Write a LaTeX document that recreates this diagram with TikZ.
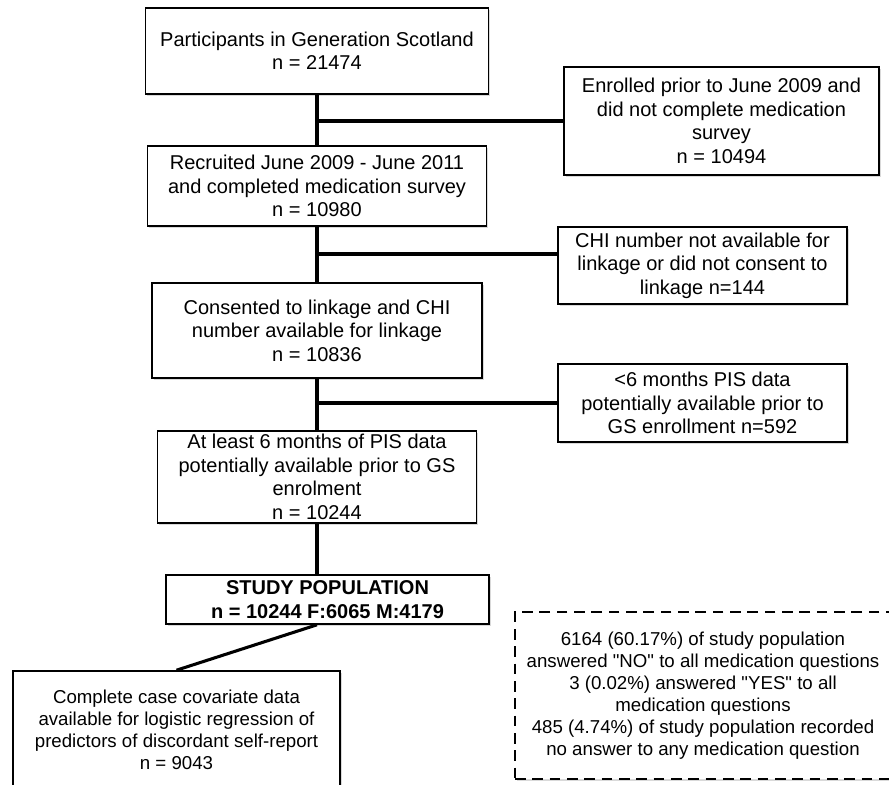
\documentclass[tikz,border=0pt]{standalone}
\usepackage{fontspec}
\setmainfont{Liberation Sans}
\usepackage{tikz}
\usetikzlibrary{shadows}
\def\boxfont{\fontsize{15}{17.6}\selectfont}
\def\smallboxfont{\fontsize{14}{16.4}\selectfont}
\def\q{\textquotedbl}

\begin{document}
\begin{tikzpicture}[x=0.75pt,y=-0.75pt,
  box/.style={draw,line width=1.2pt,fill=white,align=center,inner sep=0pt,font=\boxfont,
    drop shadow={opacity=0.3,shadow xshift=1.2pt,shadow yshift=-1.2pt}},
  link/.style={line width=2.3pt}]%<<<
\useasboundingbox (0,0) rectangle (889,785);
\node[box,minimum width=257.25pt,minimum height=64.5pt] (gs) at (317,51)
  {Participants in Generation Scotland\\n = 21474};
\node[box,minimum width=236.25pt,minimum height=81pt] (enrolled) at (721.5,121)
  {Enrolled prior to June 2009 and\\did not complete medication\\survey\\n = 10494};
\node[box,minimum width=254.25pt,minimum height=60pt] (recruited) at (317,186)
  {Recruited June 2009 - June 2011\\and completed medication survey\\n = 10980};
\node[box,minimum width=216.75pt,minimum height=57.75pt] (chi) at (702.5,265.5)
  {CHI number not available for\\linkage or did not consent to\\linkage n=144};
\node[box,minimum width=247.5pt,minimum height=71.25pt] (consented) at (317,330.5)
  {Consented to linkage and CHI\\number available for linkage\\n = 10836};
\node[box,minimum width=216.75pt,minimum height=58.5pt] (pis) at (702.5,403)
  {<6 months PIS data\\potentially available prior to\\GS enrollment n=592};
\node[box,minimum width=239.25pt,minimum height=69pt] (atleast) at (317,477)
  {At least 6 months of PIS data\\potentially available prior to GS\\enrolment\\n = 10244};
\node[box,minimum width=242.25pt,minimum height=36.75pt,font=\boxfont\bfseries] (study) at (327.5,599.5)
  {STUDY POPULATION\\n = 10244 F:6065 M:4179};
\node[box,minimum width=245.25pt,minimum height=88.5pt,font=\smallboxfont] (complete) at (176.5,730)
  {Complete case covariate data\\available for logistic regression of\\predictors of discordant self-report\\n = 9043};
\node[box,line width=0.9pt,dash pattern=on 8pt off 5pt,minimum width=282pt,minimum height=125.25pt,
  font=\smallboxfont] (note) at (703,695.5)
  {6164 (60.17\%) of study population\\answered \q NO\q{} to all medication questions\\3 (0.02\%) answered \q YES\q{} to all\\medication questions\\485 (4.74\%) of study population recorded\\no answer to any medication question};

\coordinate (split1) at (317,121);
\coordinate (split2) at (317,254);
\coordinate (split3) at (317,403);
\draw[link] (gs.south) -- (recruited.north);
\draw[link] (recruited.south) -- (consented.north);
\draw[link] (consented.south) -- (atleast.north);
\draw[link] (atleast.south) -- (atleast.south |- study.north);
\draw[link] (split1) -- (enrolled.west);
\draw[link] (split2) -- (split2 -| chi.west);
\draw[link] (split3) -- (pis.west);
\draw[link] (atleast.south |- study.south) -- (complete.north);
\end{tikzpicture}
\end{document}
